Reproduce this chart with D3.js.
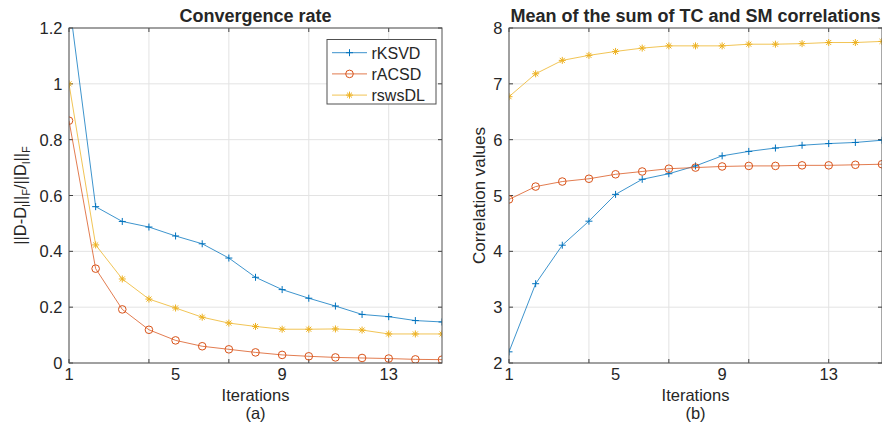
<!DOCTYPE html>
<html>
<head>
<meta charset="utf-8">
<script src="https://cdn.jsdelivr.net/npm/d3@7"></script>
<style>
  body { margin: 0; background: #fff; }
  text { font-family: "Liberation Sans", Arial, sans-serif; fill: #262626; }
</style>
</head>
<body>
<div id="chart"></div>
<script>
const iterations = d3.range(1, 16);
const xTickLabels = [1, 5, 9, 13];
const xGrid = [1, 4, 7, 10, 13];

const convKSVD = [1.30, 0.56, 0.507, 0.487, 0.455, 0.427, 0.376, 0.307, 0.263, 0.232, 0.204, 0.174, 0.166, 0.152, 0.147];
const convACSD = [0.868, 0.338, 0.192, 0.119, 0.081, 0.060, 0.049, 0.038, 0.029, 0.024, 0.020, 0.018, 0.016, 0.013, 0.012];
const convSWS = [1.0, 0.423, 0.301, 0.229, 0.197, 0.164, 0.143, 0.131, 0.121, 0.121, 0.122, 0.118, 0.104, 0.104, 0.104];

const corrKSVD = [2.20, 3.42, 4.11, 4.54, 5.02, 5.29, 5.39, 5.53, 5.71, 5.79, 5.85, 5.90, 5.93, 5.95, 5.99];
const corrACSD = [4.93, 5.16, 5.25, 5.30, 5.38, 5.43, 5.48, 5.50, 5.52, 5.53, 5.53, 5.54, 5.54, 5.55, 5.56];
const corrSWS = [6.77, 7.18, 7.42, 7.51, 7.58, 7.64, 7.68, 7.68, 7.68, 7.71, 7.71, 7.72, 7.74, 7.74, 7.76];

const leftYTicks = [0, 0.2, 0.4, 0.6, 0.8, 1, 1.2];
const rightYTicks = [2, 3, 4, 5, 6, 7, 8];

const seriesNames = ['rKSVD', 'rACSD', 'rswsDL'];
const colors = ['#0072BD', '#D95319', '#EDB120'];
const markers = ['plus', 'circle', 'star'];

const W = 882, H = 426;
const svg = d3.select('#chart').append('svg')
  .attr('width', W).attr('height', H);

function drawMarker(g, type, x, y, color) {
  const s = 3.5;
  if (type === 'plus') {
    g.append('path').attr('d', `M${x - s},${y}H${x + s}M${x},${y - s}V${y + s}`)
      .attr('stroke', color).attr('stroke-width', 1).attr('fill', 'none');
  } else if (type === 'circle') {
    g.append('circle').attr('cx', x).attr('cy', y).attr('r', 3.8)
      .attr('stroke', color).attr('stroke-width', 1).attr('fill', 'none');
  } else {
    const d = s * 0.72;
    g.append('path')
      .attr('d', `M${x - s},${y}H${x + s}M${x},${y - s}V${y + s}M${x - d},${y - d}L${x + d},${y + d}M${x - d},${y + d}L${x + d},${y - d}`)
      .attr('stroke', color).attr('stroke-width', 1).attr('fill', 'none');
  }
}

function panel(opts) {
  const { left, right, top, bottom, yDomain, yTicks, series, title, ylabel, caption, id } = opts;
  const x = d3.scaleLinear().domain([1, 15]).range([left, right]);
  const y = d3.scaleLinear().domain(yDomain).range([bottom, top]);
  const g = svg.append('g');

  // grid
  g.selectAll('.vg').data(xGrid).join('line')
    .attr('x1', d => x(d)).attr('x2', d => x(d)).attr('y1', top).attr('y2', bottom)
    .attr('stroke', '#e3e3e3').attr('stroke-width', 1);
  g.selectAll('.hg').data(yTicks).join('line')
    .attr('x1', left).attr('x2', right).attr('y1', d => y(d)).attr('y2', d => y(d))
    .attr('stroke', '#e3e3e3').attr('stroke-width', 1);

  // tick marks on all four sides
  const tl = 4;
  xGrid.forEach(v => {
    g.append('line').attr('x1', x(v)).attr('x2', x(v)).attr('y1', bottom).attr('y2', bottom - tl).attr('stroke', '#404040');
    g.append('line').attr('x1', x(v)).attr('x2', x(v)).attr('y1', top).attr('y2', top + tl).attr('stroke', '#404040');
  });
  yTicks.forEach(v => {
    g.append('line').attr('x1', left).attr('x2', left + tl).attr('y1', y(v)).attr('y2', y(v)).attr('stroke', '#404040');
    g.append('line').attr('x1', right).attr('x2', right - tl).attr('y1', y(v)).attr('y2', y(v)).attr('stroke', '#404040');
  });

  // data lines, clipped to the axes box
  svg.append('clipPath').attr('id', id)
    .append('rect').attr('x', left).attr('y', top).attr('width', right - left).attr('height', bottom - top);
  const dg = svg.append('g').attr('clip-path', `url(#${id})`);
  const line = d3.line().x((d, i) => x(iterations[i])).y(d => y(d));
  series.forEach((vals, k) => {
    dg.append('path').datum(vals).attr('d', line)
      .attr('fill', 'none').attr('stroke', colors[k]).attr('stroke-width', 0.9).attr('opacity', 0.85);
    vals.forEach((v, i) => drawMarker(dg, markers[k], x(iterations[i]), y(v), colors[k]));
  });

  // box
  svg.append('rect').attr('x', left).attr('y', top).attr('width', right - left).attr('height', bottom - top)
    .attr('fill', 'none').attr('stroke', '#505050').attr('stroke-width', 1);

  // tick labels
  svg.selectAll(null).data(xTickLabels).join('text')
    .attr('x', d => x(d)).attr('y', bottom + 17).attr('text-anchor', 'middle')
    .attr('font-size', 16.5).text(d => d);
  svg.selectAll(null).data(yTicks).join('text')
    .attr('x', left - 6.5).attr('y', d => y(d) + 6).attr('text-anchor', 'end')
    .attr('font-size', 16.5).text(d => String(d));

  // titles and labels
  const cx = (left + right) / 2;
  svg.append('text').attr('x', cx).attr('y', 22).attr('text-anchor', 'middle')
    .attr('font-size', 18).attr('font-weight', 'bold').attr('fill', '#000').text(title);
  svg.append('text').attr('x', cx).attr('y', 401).attr('text-anchor', 'middle')
    .attr('font-size', 16.5).text('Iterations');
  svg.append('text').attr('x', cx).attr('y', 419).attr('text-anchor', 'middle')
    .attr('font-size', 16.5).text(caption);
  ylabel(svg, (top + bottom) / 2);
  return { x, y };
}

panel({
  id: 'clipA', left: 69, right: 442, top: 28, bottom: 363,
  yDomain: [0, 1.2], yTicks: leftYTicks,
  series: [convKSVD, convACSD, convSWS],
  title: 'Convergence rate', caption: '(a)',
  ylabel: (s, cy) => {
    const t = s.append('text').attr('transform', `translate(26,${cy}) rotate(-90)`)
      .attr('text-anchor', 'middle').attr('font-size', 16.5);
    t.append('tspan').text('||D-D');
    t.append('tspan').attr('font-size', 11).attr('dy', 4).text('l');
    t.append('tspan').attr('dy', -4).text('||');
    t.append('tspan').attr('font-size', 11).attr('dy', 4).text('F');
    t.append('tspan').attr('dy', -4).text('/||D');
    t.append('tspan').attr('font-size', 11).attr('dy', 4).text('l');
    t.append('tspan').attr('dy', -4).text('||');
    t.append('tspan').attr('font-size', 11).attr('dy', 4).text('F');
  }
});

panel({
  id: 'clipB', left: 509, right: 882, top: 28, bottom: 363,
  yDomain: [2, 8], yTicks: rightYTicks,
  series: [corrKSVD, corrACSD, corrSWS],
  title: 'Mean of the sum of TC and SM correlations', caption: '(b)',
  ylabel: (s, cy) => {
    s.append('text').attr('transform', `translate(485,${cy}) rotate(-90)`)
      .attr('text-anchor', 'middle').attr('font-size', 17).text('Correlation values');
  }
});

// legend for panel (a)
const lg = svg.append('g');
lg.append('rect').attr('x', 327).attr('y', 39.5).attr('width', 109).attr('height', 64.5)
  .attr('fill', '#fff').attr('stroke', '#505050').attr('stroke-width', 1);
seriesNames.forEach((name, k) => {
  const ly = 52.7 + k * 21.2;
  lg.append('line').attr('x1', 332).attr('x2', 367).attr('y1', ly).attr('y2', ly)
    .attr('stroke', colors[k]).attr('stroke-width', 0.9).attr('opacity', 0.85);
  drawMarker(lg, markers[k], 349.5, ly, colors[k]);
  lg.append('text').attr('x', 371.5).attr('y', ly + 6).attr('font-size', 16).text(name);
});
</script>
</body>
</html>
